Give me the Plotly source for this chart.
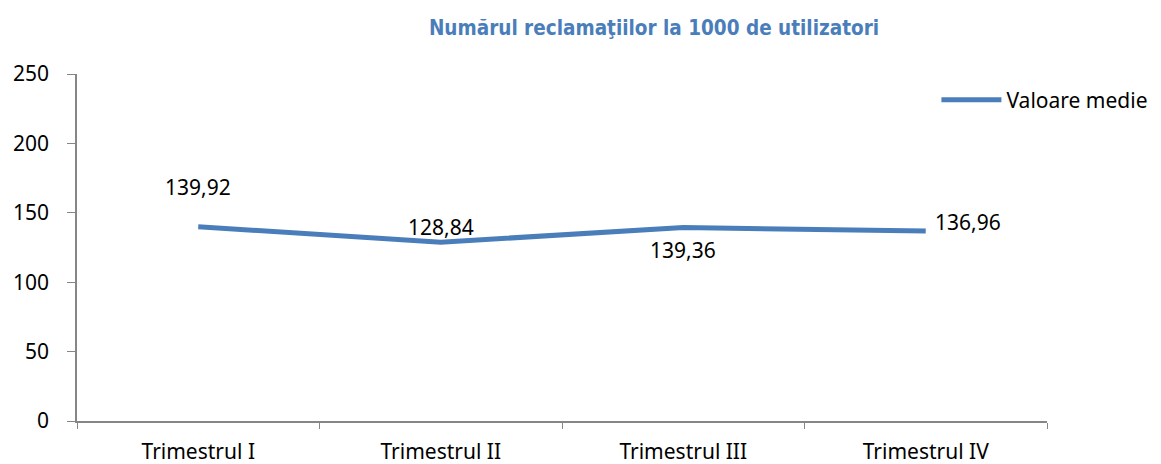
import plotly.graph_objects as go

categories = ["Trimestrul I", "Trimestrul II", "Trimestrul III", "Trimestrul IV"]
values = [139.92, 128.84, 139.36, 136.96]
series_name = "Valoare medie"
title = "Numărul reclamaţiilor la 1000 de utilizatori"

BLUE = "#4A7EBB"
FONT = "Noto Sans"
FS = 21

fig = go.Figure()
fig.add_trace(go.Scatter(
    x=categories, y=values, mode="lines", name=series_name,
    line=dict(color=BLUE, width=5), hoverinfo="skip",
))

# data labels
offsets = [40, 15, -22, 9]
anchors = ["center", "center", "center", "left"]
xshifts = [0, 0, 0, 7]
for c, v, dy, a, xs in zip(categories, values, offsets, anchors, xshifts):
    fig.add_annotation(
        x=c, y=v, text=f"{v:.2f}".replace(".", ","), showarrow=False,
        xanchor=a, yanchor="middle", yshift=dy, xshift=xs,
        font=dict(family=FONT, size=FS, color="black"),
    )

fig.update_layout(
    width=1161, height=464,
    margin=dict(l=77, r=114, t=74, b=43, autoexpand=False),
    paper_bgcolor="white", plot_bgcolor="white",
    title=dict(text=f"<b>{title}</b>", x=654 / 1161, xanchor="center", y=0.94, yanchor="middle",
               font=dict(family="DejaVu Sans Condensed", size=20.5, color=BLUE)),
    showlegend=True,
    legend=dict(x=0.886, xanchor="left", y=0.925, yanchor="middle",
                font=dict(family=FONT, size=FS, color="black"),
                bgcolor="rgba(0,0,0,0)", itemwidth=60),
    font=dict(family=FONT, size=FS, color="black"),
)
fig.update_xaxes(
    type="category", range=[-0.5, 3.5], showgrid=False, automargin=False,
    showline=True, linecolor="#868686", linewidth=1.5,
    ticks="outside", ticklen=6, tickcolor="#868686", tickson="boundaries",
    ticklabelstandoff=11,
    tickfont=dict(family=FONT, size=FS, color="black"),
)
fig.update_yaxes(
    range=[0, 250], dtick=50, showgrid=False, zeroline=False, automargin=False,
    showline=True, linecolor="#868686", linewidth=1.5,
    ticks="outside", ticklen=8, tickcolor="#868686",
    ticklabelstandoff=14,
    tickfont=dict(family=FONT, size=FS, color="black"),
)

fig.write_html("out.html", config={"displayModeBar": False},
               post_script="document.body.style.margin='0';")
